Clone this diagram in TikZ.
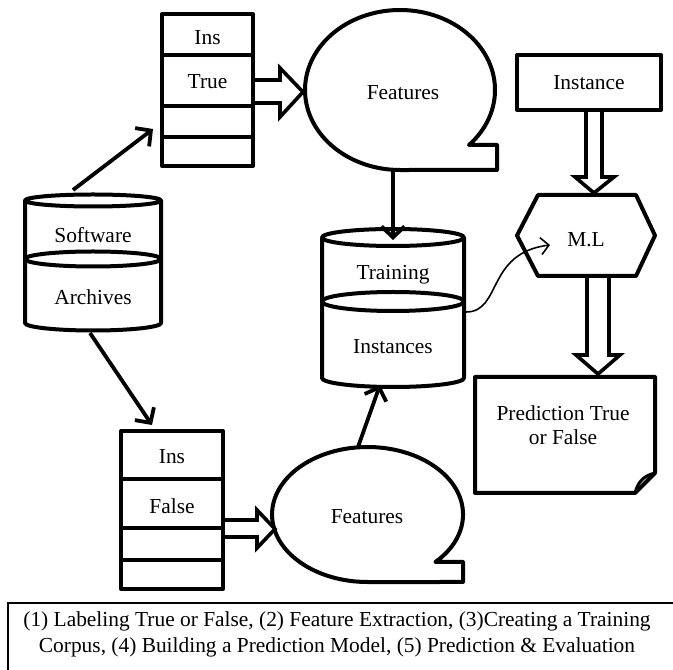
\documentclass[tikz,border=0pt]{standalone}
\usepackage{fontspec}
\setmainfont{Liberation Serif}
\usetikzlibrary{arrows.meta}
\begin{document}
\begin{tikzpicture}[x=1pt,y=1pt,
  shape line/.style={line width=4pt, line join=round},
  divider/.style={line width=4.5pt},
  thick arrow/.style={line width=3.8pt, -{Straight Barb[length=11pt,width=23pt]}},
  thin arrow/.style={line width=1.6pt, -{Straight Barb[length=8pt,width=17pt]}},
  block arrow/.style={line width=3.6pt, line join=miter, fill=white},
  label text/.style={font=\fontsize{21.4}{24}\selectfont, inner sep=0pt, align=center},
  boxnode/.style={draw, line width=4pt, inner sep=0pt, line join=round}]

\fill[white] (0,0) rectangle (673,670);
\useasboundingbox (0,0) rectangle (673,670);

% ---------- top stack ----------
\node[boxnode, minimum width=91pt, minimum height=152pt] (stackT) at (207.5,580) {};
\draw[divider] (162,615) -- (253,615);
\draw[divider] (162,564) -- (253,564);
\draw[divider] (162,533) -- (253,533);
\node[label text] (insT) at (207.5,632) {Ins};
\node[label text] (trueT) at (207.5,588) {True};

% ---------- bottom stack ----------
\node[boxnode, minimum width=102pt, minimum height=158pt] (stackB) at (172,160) {};
\draw[divider] (121,191) -- (223,191);
\draw[divider] (121,142) -- (223,142);
\draw[divider] (121,110) -- (223,110);
\node[label text] (insB) at (172,213) {Ins};
\node[label text] (falseB) at (172,164) {False};

% ---------- Software Archives cylinder ----------
\draw[shape line] (25,469.5) -- (25,347) arc[start angle=180, end angle=360, x radius=68pt, y radius=7.5pt] -- (161,469.5);
\draw[shape line] (93,469.5) ellipse [x radius=68pt, y radius=6pt];
\draw[shape line] (93,411) ellipse [x radius=68pt, y radius=7.5pt];
\node[label text] (software) at (93,435) {Software};
\node[label text] (archives) at (93,373) {Archives};

% ---------- Training Instances cylinder ----------
\draw[shape line] (322,432.5) -- (322,292) arc[start angle=180, end angle=360, x radius=71pt, y radius=9pt] -- (464,432.5);
\draw[shape line] (393,432.5) ellipse [x radius=71pt, y radius=8.5pt];
\draw[shape line] (393,368.5) ellipse [x radius=71pt, y radius=9.5pt];
\node[label text] (training) at (393,395) {Training};
\node[label text] (instances) at (393,323) {Instances};

% ---------- Features callouts ----------
\draw[shape line] (469,525) arc[start angle=-43.43, end angle=270, x radius=95pt, y radius=80pt] -- (497,500) -- (497,525) -- cycle;
\node[label text] (featT) at (403,577) {Features};
\draw[shape line] (435.4,108) arc[start angle=-44.72, end angle=270, x radius=95.5pt, y radius=67.5pt] -- (463,88) -- (463,108) -- cycle;
\node[label text] (featB) at (367,153) {Features};

% ---------- block arrows ----------
\draw[block arrow] (255,590) -- (280,590) -- (280,602) -- (303,578) -- (280,553) -- (280,567) -- (255,567);
\draw[block arrow] (225,150) -- (257,150) -- (257,160) -- (275,141) -- (257,122) -- (257,133) -- (225,133);
\draw[block arrow] (586,558) -- (586,493) -- (575,493) -- (594,477) -- (614,493) -- (602,493) -- (602,558);
\draw[block arrow] (587,394) -- (587,315) -- (576,315) -- (598,296) -- (620,315) -- (609,315) -- (609,394);

% ---------- Instance ----------
\node[boxnode, minimum width=144pt, minimum height=55pt] (instance) at (589,587.5) {};
\node[label text] (instanceT) at (589,587) {Instance};

% ---------- M.L hexagon ----------
\draw[shape line] (517,434.5) -- (538,475) -- (636,475) -- (655,434.5) -- (636,394) -- (538,394) -- cycle;
\node[label text] (ml) at (586,430) {M.L};

% ---------- Prediction ----------
\draw[shape line] (475,293) -- (655,293) -- (655,197) -- (635,177) -- (475,177) -- cycle;
\draw[line width=3pt, line join=round] (635,177) .. controls (638,188) and (643,194) .. (655,197);
\node[label text] (pred) at (563,245) {Prediction True\\or False};

% ---------- connectors ----------
\coordinate (swTop) at (73,480);
\coordinate (stTin) at (153,541);
\coordinate (swBot) at (90,337);
\coordinate (sbIn) at (152,245);
\coordinate (fTbot) at (393,500);
\coordinate (trTop) at (393,430);
\coordinate (fBtop) at (358,223);
\coordinate (trBot) at (380,285);
\coordinate (trRight) at (466,358);
\coordinate (mlIn) at (550,425);
\draw[thick arrow] (swTop) -- (stTin);
\draw[thick arrow] (swBot) -- (sbIn);
\draw[thick arrow] (fTbot) -- (trTop);
\draw[thick arrow] (fBtop) -- (trBot);
\draw[thin arrow] (trRight) .. controls (502,358) and (486,417) .. (mlIn);

% ---------- caption ----------
\draw[line width=1.5pt] (8,-10) -- (8,67) -- (690,67);
\node[label text, font=\fontsize{21.4}{26}\selectfont] (caption) at (337,36) {(1) Labeling True or False, (2) Feature Extraction, (3)Creating a Training\\Corpus, (4) Building a Prediction Model, (5) Prediction \& Evaluation};
\end{tikzpicture}
\end{document}
